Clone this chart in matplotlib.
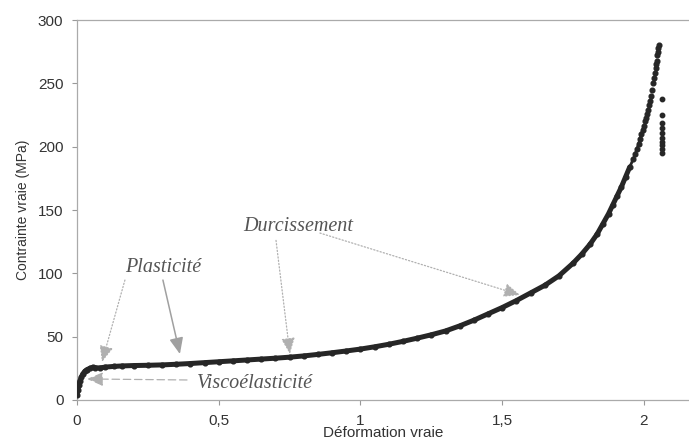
import matplotlib
matplotlib.use("Agg")
import matplotlib.pyplot as plt
from matplotlib.ticker import FuncFormatter

# True strain / true stress (MPa) measured points
strain = [0.000, 0.003, 0.006, 0.010, 0.015, 0.020, 0.027, 0.035, 0.045, 0.055,
          0.065, 0.080, 0.100, 0.130, 0.160, 0.200, 0.250, 0.300, 0.350, 0.400,
          0.450, 0.500, 0.550, 0.600, 0.650, 0.700, 0.750, 0.800, 0.850, 0.900,
          0.950, 1.000, 1.050, 1.100, 1.150, 1.200, 1.250, 1.300, 1.350, 1.400,
          1.450, 1.500, 1.550, 1.600, 1.650, 1.700, 1.750, 1.780, 1.810, 1.835,
          1.855, 1.875, 1.890, 1.905, 1.920, 1.935, 1.950, 1.962, 1.969, 1.975,
          1.981, 1.986, 1.991, 1.995, 1.999, 2.003, 2.007, 2.010, 2.014, 2.017,
          2.021, 2.024, 2.028, 2.032, 2.035, 2.038, 2.041, 2.043, 2.045, 2.047,
          2.049, 2.051, 2.053]
stress = [4, 8, 12, 15, 18, 20.5, 22.5, 24, 25, 25.8,
          25.5, 25.3, 26, 26.5, 26.9, 27.2, 27.4, 27.7, 28.2, 28.8,
          29.5, 30.2, 30.9, 31.6, 32.3, 33.0, 33.8, 34.8, 36.0, 37.3,
          38.7, 40.2, 42.0, 44.0, 46.3, 48.8, 51.5, 54.5, 58.5, 63,
          68, 73, 78.5, 84.5, 90.5, 98, 108, 115, 123, 131,
          139, 147, 154, 161, 168, 176, 184, 190, 194, 198,
          202, 206, 210, 213, 216, 220, 223, 226, 229, 233,
          236, 240, 245, 250, 254, 258, 262, 265, 268, 272,
          275, 278, 280]

# Points recorded after rupture
rupture_strain = [2.062, 2.062, 2.063, 2.063, 2.063, 2.063, 2.064, 2.064, 2.064, 2.064]
rupture_stress = [238, 225, 219, 215, 211, 207, 204, 201, 198, 195]

x_ticks = [0, 0.5, 1, 1.5, 2]
y_ticks = [0, 50, 100, 150, 200, 250, 300]

plt.rcParams["font.family"] = ["Liberation Sans", "DejaVu Sans"]

fig = plt.figure(figsize=(6.89, 4.41), dpi=100)
ax = fig.add_axes([0.1118, 0.093, 0.8882, 0.8616])

ink = "#262626"
# dense part of the record drawn as a thick band, the sparse tail as dots
n_band = sum(1 for s in strain if s <= 1.96)
n_thin = sum(1 for s in strain if s <= 2.0)
ax.plot(strain[:n_band], stress[:n_band], color=ink, lw=3.6,
        solid_capstyle="round", zorder=3)
ax.plot(strain[n_band - 1:n_thin], stress[n_band - 1:n_thin], color=ink, lw=2.0,
        solid_capstyle="round", zorder=3)
ax.plot(strain, stress, "o", color=ink, ms=3.4, zorder=4)
ax.plot(rupture_strain, rupture_stress, "o", color=ink, ms=3.2, zorder=4)

ax.set_xlim(0, 2.159)
ax.set_ylim(0, 300)
ax.set_xticks(x_ticks)
ax.set_yticks(y_ticks)
ax.xaxis.set_major_formatter(FuncFormatter(lambda v, p: f"{v:g}".replace(".", ",")))
ax.tick_params(axis="both", colors="#999999", labelcolor="#333333", labelsize=11,
               length=3.6, width=0.8, direction="out", pad=6.2)

for side in ("left", "bottom", "top"):
    ax.spines[side].set_color("#aaaaaa")
    ax.spines[side].set_linewidth(0.9)
ax.spines["right"].set_visible(False)

ax.set_xlabel("Déformation vraie", fontsize=11, color="#333333")
ax.xaxis.label.set_va("bottom")
ax.xaxis.set_label_coords(0.5, -0.106)
ax.set_ylabel("Contrainte vraie (MPa)", fontsize=10, color="#333333", labelpad=6)

txt_kw = dict(fontfamily=["Liberation Serif", "DejaVu Serif"], style="italic",
              fontsize=14.5, color="#555555", ha="center", va="center")
ax.text(0.303, 104.5, "Plasticité", **txt_kw)
ax.text(0.78, 137, "Durcissement", **txt_kw)
ax.text(0.628, 13.4, "Viscoélasticité", **txt_kw)

def arrow(x0, y0, x1, y1, ls, col="#b0b0b0", lw=0.9):
    ax.annotate("", xy=(x1, y1), xytext=(x0, y0),
                arrowprops=dict(arrowstyle="-|>,head_length=0.7,head_width=0.3",
                                linestyle=ls, color=col, lw=lw,
                                shrinkA=0, shrinkB=0, mutation_scale=14),
                zorder=5)

arrow(0.169, 94.7, 0.088, 30.0, ":")
arrow(0.303, 94.7, 0.363, 36.3, "-", col="#a0a0a0", lw=1.1)
arrow(0.702, 126, 0.751, 36.3, ":")
arrow(0.857, 131.8, 1.563, 82.9, ":")
arrow(0.388, 15.8, 0.035, 16.6, (0, (6, 3)))

fig.savefig("out.png", dpi=100)
